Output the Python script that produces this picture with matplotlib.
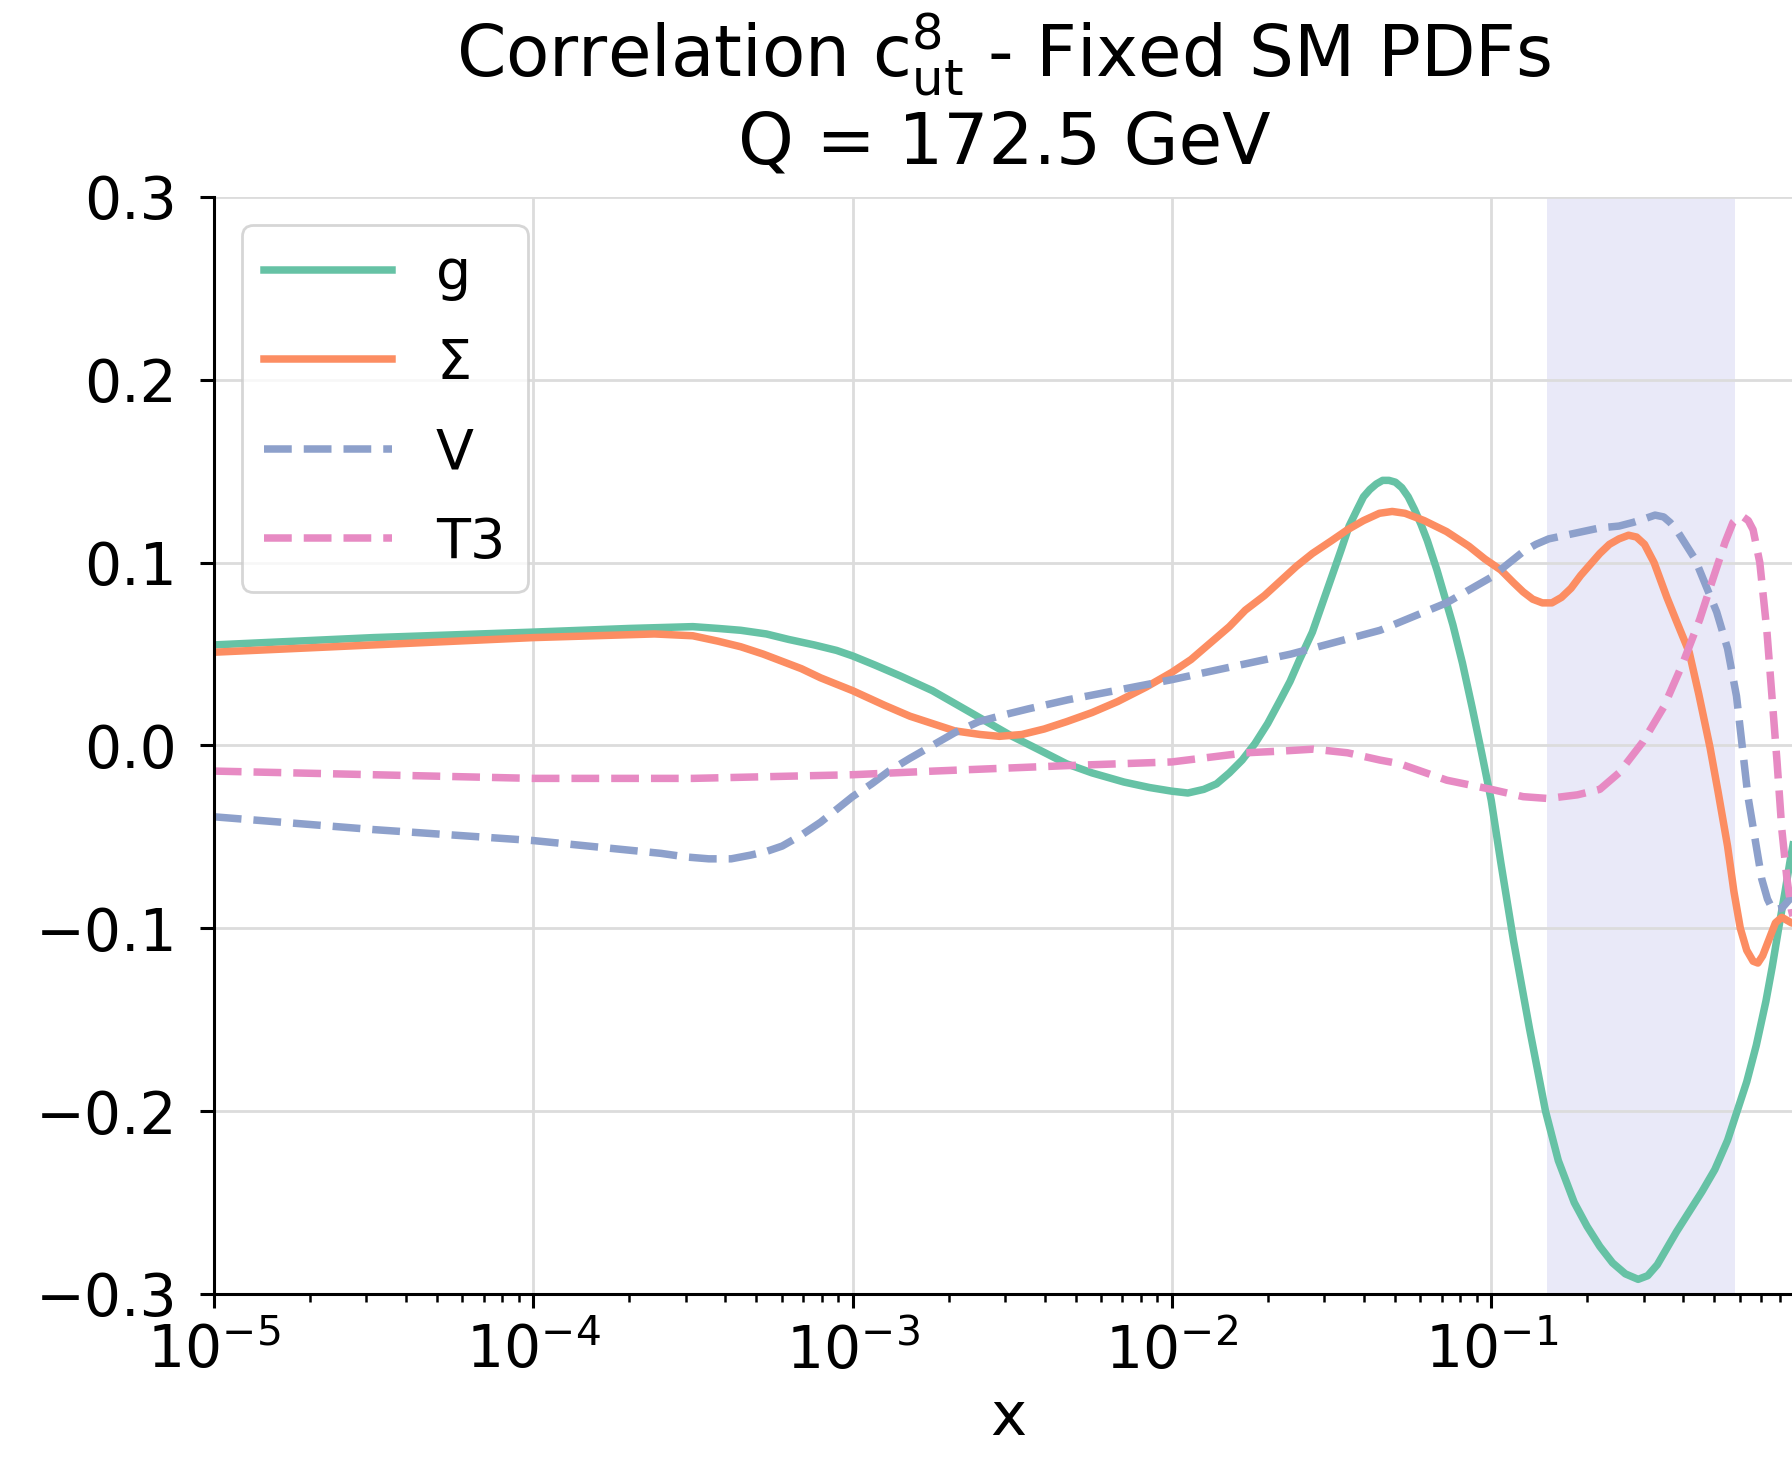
import matplotlib
matplotlib.use("Agg")
import matplotlib.pyplot as plt
import numpy as np

# log10(x) positions and correlation values
g_lx = [-5.0, -4.5, -4.0, -3.7, -3.5, -3.42, -3.35, -3.27, -3.2, -3.12, -3.05, -3.0,
        -2.93, -2.85, -2.75, -2.66, -2.58, -2.50, -2.42, -2.33, -2.25, -2.15, -2.07,
        -2.0, -1.95, -1.90, -1.86, -1.82, -1.78, -1.74, -1.70, -1.66, -1.63, -1.60,
        -1.56, -1.53, -1.50, -1.47, -1.445, -1.42, -1.40, -1.38, -1.36, -1.34, -1.32,
        -1.30, -1.28, -1.26, -1.24, -1.22, -1.20, -1.17, -1.14, -1.12, -1.09, -1.06,
        -1.03, -1.0, -0.97, -0.93, -0.88, -0.83, -0.79, -0.74, -0.70, -0.66, -0.62,
        -0.58, -0.54, -0.51, -0.48, -0.45, -0.42, -0.38, -0.34, -0.30, -0.26, -0.23,
        -0.20, -0.17, -0.14, -0.12, -0.10, -0.08, -0.065, -0.04, 0.0]
g_val = [0.055, 0.059, 0.062, 0.064, 0.065, 0.064, 0.063, 0.061, 0.058, 0.055, 0.052, 0.049,
         0.044, 0.038, 0.030, 0.021, 0.013, 0.005, -0.002, -0.010, -0.015, -0.020, -0.023,
         -0.025, -0.026, -0.024, -0.021, -0.015, -0.008, 0.001, 0.012, 0.025, 0.035, 0.047,
         0.062, 0.077, 0.092, 0.107, 0.120, 0.129, 0.136, 0.140, 0.143, 0.145, 0.145,
         0.144, 0.141, 0.136, 0.129, 0.121, 0.112, 0.096, 0.078, 0.066, 0.045, 0.021,
         -0.004, -0.030, -0.064, -0.107, -0.155, -0.200, -0.227, -0.250, -0.263, -0.274, -0.283,
         -0.289, -0.292, -0.290, -0.284, -0.275, -0.266, -0.255, -0.244, -0.232, -0.216, -0.200,
         -0.184, -0.164, -0.140, -0.121, -0.100, -0.080, -0.064, -0.040, -0.010]

s_lx = [-5.0, -4.5, -4.0, -3.62, -3.50, -3.42, -3.35, -3.28, -3.22, -3.16, -3.10, -3.0,
        -2.9, -2.82, -2.75, -2.68, -2.60, -2.54, -2.47, -2.40, -2.33, -2.25, -2.17, -2.08,
        -2.0, -1.94, -1.88, -1.82, -1.77, -1.71, -1.66, -1.61, -1.56, -1.50, -1.45, -1.40,
        -1.35, -1.31, -1.27, -1.21, -1.14, -1.07, -1.02, -0.97, -0.93, -0.90, -0.87, -0.84,
        -0.81, -0.78, -0.75, -0.72, -0.69, -0.66, -0.63, -0.60, -0.57, -0.545, -0.52, -0.49,
        -0.45, -0.42, -0.38, -0.35, -0.315, -0.29, -0.26, -0.24, -0.22, -0.20, -0.18, -0.165,
        -0.15, -0.13, -0.11, -0.09, -0.06, 0.0]
s_val = [0.051, 0.055, 0.059, 0.061, 0.060, 0.057, 0.054, 0.050, 0.046, 0.042, 0.037, 0.030,
         0.022, 0.016, 0.012, 0.008, 0.006, 0.005, 0.006, 0.009, 0.013, 0.018, 0.024, 0.032,
         0.040, 0.047, 0.056, 0.065, 0.074, 0.082, 0.090, 0.098, 0.105, 0.112, 0.118, 0.123,
         0.127, 0.128, 0.127, 0.123, 0.117, 0.109, 0.102, 0.096, 0.089, 0.084, 0.080, 0.078,
         0.078, 0.081, 0.086, 0.093, 0.099, 0.105, 0.110, 0.113, 0.115, 0.114, 0.110, 0.100,
         0.081, 0.068, 0.051, 0.028, -0.001, -0.025, -0.055, -0.080, -0.100, -0.112, -0.118, -0.119,
         -0.115, -0.106, -0.097, -0.094, -0.097, -0.100]

v_lx = [-5.0, -4.5, -4.0, -3.6, -3.52, -3.45, -3.38, -3.32, -3.27, -3.22, -3.16, -3.1,
        -3.05, -3.0, -2.94, -2.886, -2.82, -2.75, -2.68, -2.605, -2.52, -2.45, -2.325, -2.0,
        -1.627, -1.348, -1.14, -1.07, -1.0, -0.95, -0.90, -0.86, -0.82, -0.74, -0.66, -0.60,
        -0.556, -0.52, -0.487, -0.46, -0.44, -0.42, -0.362, -0.294, -0.26, -0.232, -0.196,
        -0.153, -0.135, -0.118, -0.09, -0.06, 0.0]
v_val = [-0.039, -0.046, -0.052, -0.059, -0.061, -0.062, -0.062, -0.060, -0.058, -0.055, -0.049, -0.042,
         -0.035, -0.028, -0.021, -0.014, -0.007, 0.000, 0.007, 0.013, 0.017, 0.020, 0.025, 0.036,
         0.050, 0.063, 0.078, 0.085, 0.092, 0.099, 0.106, 0.110, 0.113, 0.116, 0.119, 0.120,
         0.122, 0.124, 0.126, 0.125, 0.122, 0.118, 0.102, 0.073, 0.053, 0.027, -0.028,
         -0.073, -0.084, -0.090, -0.089, -0.083, -0.070]

t_lx = [-5.0, -4.5, -4.0, -3.5, -3.0, -2.745, -2.325, -2.0, -1.768, -1.65, -1.557, -1.45,
        -1.348, -1.286, -1.139, -1.0, -0.90, -0.822, -0.73, -0.66, -0.60, -0.525, -0.46,
        -0.40, -0.347, -0.306, -0.268, -0.243, -0.225, -0.211, -0.195, -0.18, -0.159, -0.137,
        -0.121, -0.105, -0.09, -0.074, -0.06, 0.0]
t_val = [-0.014, -0.016, -0.018, -0.018, -0.016, -0.014, -0.011, -0.009, -0.004, -0.003, -0.002, -0.004,
         -0.008, -0.010, -0.019, -0.024, -0.028, -0.029, -0.027, -0.024, -0.015, 0.002, 0.021,
         0.045, 0.069, 0.091, 0.111, 0.122, 0.125, 0.125, 0.123, 0.118, 0.100, 0.063,
         0.027, -0.009, -0.046, -0.073, -0.090, -0.130]

band = (0.15, 0.58)
y_ticks = [-0.3, -0.2, -0.1, 0.0, 0.1, 0.2, 0.3]

fig = plt.figure(figsize=(8.96, 7.29), dpi=200)
ax = fig.add_axes([0.1193, 0.1125, 0.8871, 0.7524])

ax.axvspan(band[0], band[1], color="#e9e9f8", zorder=0.1, lw=0)

lw = 2.7
ax.plot(10 ** np.array(g_lx), g_val, color="#66c2a5", lw=lw, label="g")
ax.plot(10 ** np.array(s_lx), s_val, color="#fc8d62", lw=lw, label=r"$\Sigma$")
ax.plot(10 ** np.array(v_lx), v_val, color="#8da0cb", lw=lw, ls="--", label="V")
ax.plot(10 ** np.array(t_lx), t_val, color="#e78ac3", lw=lw, ls="--", label="T3")

ax.set_xscale("log")
ax.set_xlim(1e-5, 0.95)
ax.set_ylim(-0.3, 0.3)
ax.set_yticks(y_ticks)
ax.set_axisbelow(True)
ax.grid(True, which="major", color="#dcdcdc", lw=1.0, zorder=0.5)

for side in ["top", "right"]:
    ax.spines[side].set_visible(False)
for side in ["left", "bottom"]:
    ax.spines[side].set_linewidth(1.1)
    ax.spines[side].set_color("black")

ax.tick_params(axis="both", which="major", labelsize=21, length=5.2, width=1.1)
ax.tick_params(axis="x", which="major", pad=5)
ax.tick_params(axis="y", which="major", pad=8)
ax.tick_params(axis="x", which="minor", length=3, width=0.9)

ax.set_xlabel("x", fontsize=22, labelpad=3)
ax.set_title("Correlation $\\mathrm{c}^{8}_{\\mathrm{ut}}$ - Fixed SM PDFs\nQ = 172.5 GeV",
             fontsize=25.5, pad=12, x=0.497)

ax.legend(loc="upper left", fontsize=20, handlelength=2.3, labelspacing=0.64,
          edgecolor="#cccccc", fancybox=True)

fig.savefig("out.png", dpi=200)
